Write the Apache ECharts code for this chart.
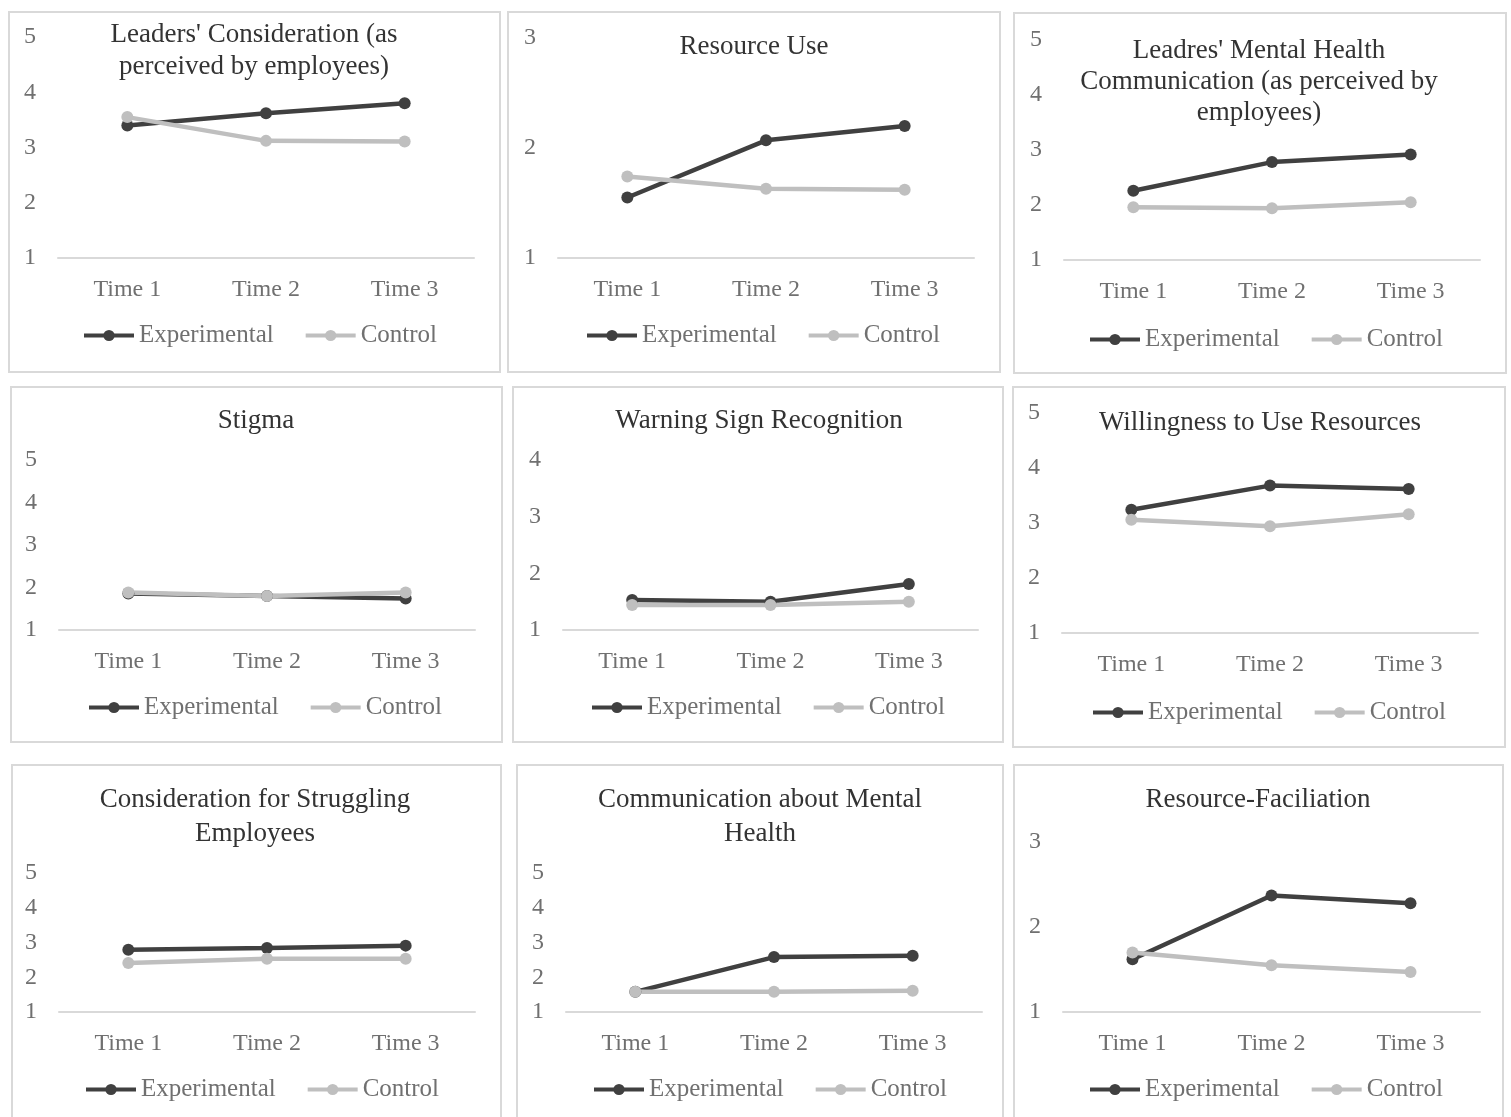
<!DOCTYPE html>
<html>
<head>
<meta charset="utf-8">
<script src="https://cdn.jsdelivr.net/npm/echarts@6/dist/echarts.min.js"></script>
<style>
  html, body { margin: 0; padding: 0; background: #ffffff; }
  #chart { width: 1511px; height: 1117px; }
</style>
</head>
<body>
<div id="chart"></div>
<script>
// Measurement occasions
const times = ['Time 1', 'Time 2', 'Time 3'];
const groupNames = ['Experimental', 'Control'];

// Mean scores per scale (Experimental / Control)
const leadersConsiderationExp = [3.40, 3.62, 3.80];
const leadersConsiderationCtrl = [3.55, 3.12, 3.11];
const resourceUseExp = [1.55, 2.07, 2.20];
const resourceUseCtrl = [1.74, 1.63, 1.62];
const leadersCommunicationExp = [2.26, 2.78, 2.92];
const leadersCommunicationCtrl = [1.96, 1.94, 2.05];
const stigmaExp = [1.86, 1.80, 1.74];
const stigmaCtrl = [1.88, 1.80, 1.88];
const warningSignExp = [1.53, 1.50, 1.81];
const warningSignCtrl = [1.44, 1.44, 1.50];
const willingnessExp = [3.24, 3.68, 3.62];
const willingnessCtrl = [3.06, 2.94, 3.16];
const strugglingExp = [2.79, 2.84, 2.91];
const strugglingCtrl = [2.41, 2.53, 2.53];
const communicationExp = [1.58, 2.58, 2.62];
const communicationCtrl = [1.58, 1.58, 1.61];
const facilitationExp = [1.62, 2.37, 2.28];
const facilitationCtrl = [1.70, 1.55, 1.47];

// Panel titles and value-axis maxima
const panelTitles = [
  "Leaders' Consideration (as\nperceived by employees)",
  'Resource Use',
  "Leadres' Mental Health\nCommunication (as perceived by\nemployees)",
  'Stigma',
  'Warning Sign Recognition',
  'Willingness to Use Resources',
  'Consideration for Struggling\nEmployees',
  'Communication about Mental\nHealth',
  'Resource-Faciliation'
];
const axisMax = [5, 3, 5, 5, 4, 5, 5, 5, 3];
const expSeries = [leadersConsiderationExp, resourceUseExp, leadersCommunicationExp, stigmaExp,
  warningSignExp, willingnessExp, strugglingExp, communicationExp, facilitationExp];
const ctrlSeries = [leadersConsiderationCtrl, resourceUseCtrl, leadersCommunicationCtrl, stigmaCtrl,
  warningSignCtrl, willingnessCtrl, strugglingCtrl, communicationCtrl, facilitationCtrl];

// Panel geometry (pixels)
const layout = [
  { box: [9, 12, 491, 360],   grid: [58, 37, 416, 221],   tx: 254,  ty: 19,  lh: 32, lx: 82,   ly: 337 },
  { box: [508, 12, 492, 360], grid: [558, 38, 416, 220],  tx: 754,  ty: 31,  lh: 32, lx: 585,  ly: 337 },
  { box: [1014, 13, 492, 360],grid: [1064, 40, 416, 220], tx: 1259, ty: 35,  lh: 31, lx: 1088, ly: 341 },
  { box: [11, 387, 491, 355], grid: [59, 460, 416, 170],  tx: 256,  ty: 405, lh: 32, lx: 87,   ly: 709 },
  { box: [513, 387, 490, 355],grid: [563, 460, 415, 170], tx: 759,  ty: 405, lh: 32, lx: 590,  ly: 709 },
  { box: [1013, 387, 492, 360],grid: [1062, 413, 416, 220],tx: 1260, ty: 407, lh: 32, lx: 1091, ly: 714 },
  { box: [12, 765, 489, 360], grid: [59, 873, 416, 139],  tx: 255,  ty: 783, lh: 34, lx: 84,   ly: 1091 },
  { box: [517, 765, 486, 360],grid: [566, 873, 416, 139], tx: 760,  ty: 783, lh: 34, lx: 592,  ly: 1091 },
  { box: [1014, 765, 489, 360],grid: [1063, 842, 417, 170],tx: 1258, ty: 784, lh: 32, lx: 1088, ly: 1091 }
];

const FONT = '"Liberation Serif", "Times New Roman", serif';
const EXP_COLOR = '#404040';
const CTRL_COLOR = '#bfbfbf';
const LABEL_COLOR = '#707070';

const option = {
  animation: false,
  backgroundColor: '#ffffff',
  title: [], grid: [], xAxis: [], yAxis: [], legend: [], series: [], graphic: []
};

layout.forEach((p, i) => {
  option.graphic.push({
    type: 'rect', z: -10,
    shape: { x: p.box[0], y: p.box[1], width: p.box[2], height: p.box[3] },
    style: { fill: '#ffffff', stroke: '#d9d9d9', lineWidth: 2 }
  });
  option.title.push({
    text: panelTitles[i],
    left: p.tx, top: p.ty, padding: 0,
    textAlign: 'center',
    textStyle: { fontFamily: FONT, fontSize: 27, fontWeight: 'normal', color: '#333333', lineHeight: p.lh }
  });
  option.grid.push({ left: p.grid[0], top: p.grid[1], width: p.grid[2], height: p.grid[3] });
  option.xAxis.push({
    type: 'category', gridIndex: i, data: times, boundaryGap: true,
    axisLine: { lineStyle: { color: '#d9d9d9', width: 2 } },
    axisTick: { show: false },
    axisLabel: { margin: 20, fontFamily: FONT, fontSize: 24, color: LABEL_COLOR }
  });
  option.yAxis.push({
    type: 'value', gridIndex: i, min: 1, max: axisMax[i], interval: 1,
    axisLine: { show: false }, axisTick: { show: false }, splitLine: { show: false },
    axisLabel: { margin: 22, fontFamily: FONT, fontSize: 24, color: LABEL_COLOR }
  });
  option.legend.push({
    data: groupNames, left: p.lx, top: p.ly - 14, padding: 0,
    itemWidth: 50, itemHeight: 14, itemGap: 30,
    lineStyle: { width: 4 },
    textStyle: { fontFamily: FONT, fontSize: 25, color: LABEL_COLOR }
  });
  option.series.push({
    name: groupNames[0], type: 'line', xAxisIndex: i, yAxisIndex: i,
    data: expSeries[i], symbol: 'circle', symbolSize: 12,
    lineStyle: { color: EXP_COLOR, width: 4.5 }, itemStyle: { color: EXP_COLOR }
  });
  option.series.push({
    name: groupNames[1], type: 'line', xAxisIndex: i, yAxisIndex: i,
    data: ctrlSeries[i], symbol: 'circle', symbolSize: 12,
    lineStyle: { color: CTRL_COLOR, width: 4.5 }, itemStyle: { color: CTRL_COLOR }
  });
});

const chart = echarts.init(document.getElementById('chart'), null, { renderer: 'canvas' });
chart.setOption(option);
</script>
</body>
</html>
